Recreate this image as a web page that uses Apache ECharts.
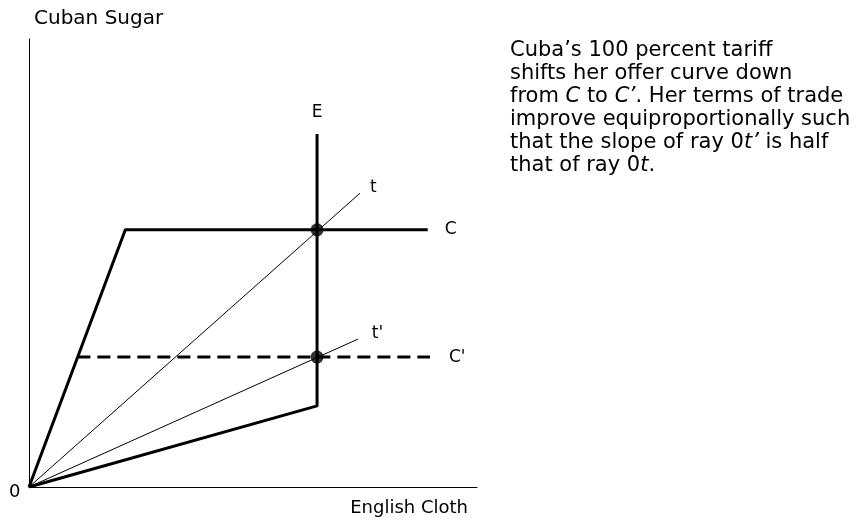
<!DOCTYPE html>
<html>
<head>
<meta charset="utf-8">
<script src="https://cdn.jsdelivr.net/npm/echarts@6/dist/echarts.min.js"></script>
<style>
  html, body { margin: 0; padding: 0; background: #fff; }
  #chart { width: 859px; height: 525px; }
</style>
</head>
<body>
<div id="chart"></div>
<script>
// offer curves and rays, in axis units (0..100 on both axes)
var curveC = [[0, 0], [21.5, 57.4], [89, 57.4]];
var curveE = [[0, 0], [64.3, 18.1], [64.3, 78.8]];
var curveCPrime = [[10.8, 29], [89.5, 29]];
var rayT = [[0, 0], [73.9, 65.6]];
var rayTPrime = [[0, 0], [73.4, 33]];
var equilibria = [[64.3, 57.4], [64.3, 29]];

var labelFont = 'DejaVu Sans';
var textFont = 'DejaVu Sans';

// put a text label on the last point of a line
function withEndLabel(points, text, pos, extra) {
    return points.map(function (p, i) {
        if (i < points.length - 1) return p;
        return {
            value: p,
            label: Object.assign({
                show: true,
                formatter: text,
                position: pos,
                color: '#000',
                fontFamily: labelFont,
                fontSize: 17
            }, extra || {})
        };
    });
}

function lineSeries(name, points, width, type) {
    return {
        name: name,
        type: 'line',
        data: points,
        symbol: 'circle',
        symbolSize: 0,
        showSymbol: true,
        silent: true,
        animation: false,
        lineStyle: { color: '#000', width: width, type: type || 'solid' },
        itemStyle: { color: '#000' }
    };
}

var chart = echarts.init(document.getElementById('chart'));
var option = {
    backgroundColor: '#fff',
    animation: false,
    grid: { left: 29, top: 39, width: 448, height: 448 },
    xAxis: {
        type: 'value', min: 0, max: 100,
        name: 'English Cloth',
        nameLocation: 'end',
        nameGap: 0,
        nameTextStyle: {
            color: '#000', fontFamily: textFont, fontSize: 18,
            align: 'right', verticalAlign: 'top', padding: [12, 9, 0, 0]
        },
        axisLine: { lineStyle: { color: '#000', width: 1 } },
        axisTick: { show: false },
        axisLabel: { show: false },
        splitLine: { show: false }
    },
    yAxis: {
        type: 'value', min: 0, max: 100,
        name: 'Cuban Sugar',
        nameLocation: 'end',
        nameGap: 10,
        nameTextStyle: {
            color: '#000', fontFamily: textFont, fontSize: 20,
            align: 'left', padding: [0, 0, 0, 5]
        },
        axisLine: { lineStyle: { color: '#000', width: 1 } },
        axisTick: { show: false },
        axisLabel: { show: false },
        splitLine: { show: false }
    },
    graphic: [
        {
            type: 'text', left: 9, top: 483,
            style: { text: '0', fill: '#000', font: '18px ' + textFont }
        },
        {
            type: 'text', left: 510, top: 39,
            style: {
                text: 'Cuba\u2019s 100 percent tariff\nshifts her offer curve down\nfrom {i|C} to {i|C\u2019}. Her terms of trade\nimprove equiproportionally such\nthat the slope of ray 0{i|t\u2019} is half\nthat of ray 0{i|t}.',
                fill: '#000',
                fontFamily: textFont,
                fontSize: 21,
                lineHeight: 23,
                rich: {
                    i: { fontStyle: 'italic', fontFamily: textFont, fontSize: 21, lineHeight: 23 }
                }
            }
        }
    ],
    series: [
        lineSeries('C', withEndLabel(curveC, 'C', 'right', { distance: 17 }), 3),
        lineSeries('E', withEndLabel(curveE, 'E', 'top', { distance: 13 }), 3),
        lineSeries("C'", withEndLabel(curveCPrime, "C'", 'right', { distance: 19 }), 3, [13, 7]),
        lineSeries('t', withEndLabel(rayT, 't', 'right', { distance: 10, offset: [0, -6] }), 1),
        lineSeries("t'", withEndLabel(rayTPrime, "t'", 'right', { distance: 14, offset: [0, -6] }), 1),
        {
            name: 'equilibrium',
            type: 'scatter',
            data: equilibria,
            symbolSize: 13,
            silent: true,
            itemStyle: { color: '#000' }
        }
    ]
};
chart.setOption(option);
</script>
</body>
</html>
